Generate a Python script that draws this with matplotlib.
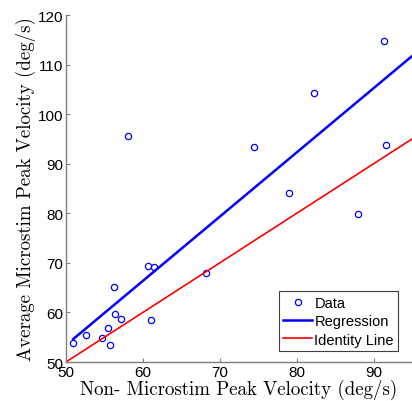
import matplotlib.pyplot as plt
import numpy as np

# non-microstim peak velocity (deg/s) vs average microstim peak velocity (deg/s)
non_stim = [50.95, 52.56, 54.7, 55.5, 55.7, 56.2, 56.4, 57.1, 58.06, 60.7,
            61.5, 61.0, 68.2, 74.4, 79.0, 82.3, 88.0, 91.3, 91.6]
microstim = [53.9, 55.4, 54.8, 56.8, 53.5, 65.1, 59.7, 58.6, 95.6, 69.4,
             69.2, 58.5, 68.0, 93.4, 84.1, 104.2, 79.8, 114.8, 93.8]

# regression line as shown in the figure
fit_slope = 1.296
fit_intercept = -11.4

x_limits = [50, 95]
y_limits = [50, 120]
x_ticks = [50, 60, 70, 80, 90]
y_ticks = [50, 60, 70, 80, 90, 100, 110, 120]

x = np.array(non_stim)
y = np.array(microstim)

fig = plt.figure(figsize=(4.12, 4.02), dpi=100)
ax = fig.add_axes([0.160, 0.097, 0.840, 0.863])

ax.plot(x, y, 'o', mfc='none', mec='#0000ff', mew=0.9, ms=4.5, label='Data')
fit_x = np.array([x.min(), x_limits[1] + 5])
ax.plot(fit_x, fit_slope * fit_x + fit_intercept, color='#0000ff', lw=1.8, label='Regression')
id_x = np.array([x_limits[0], x_limits[1] + 5])
ax.plot(id_x, id_x, color='#ff0000', lw=1.2, label='Identity Line')

ax.set_xlim(x_limits)
ax.set_ylim(y_limits)
ax.set_xticks(x_ticks)
ax.set_yticks(y_ticks)

for side in ['top', 'right']:
    ax.spines[side].set_visible(False)
for side in ['left', 'bottom']:
    ax.spines[side].set_color('#7f7f7f')
    ax.spines[side].set_linewidth(1.0)
ax.tick_params(direction='in', length=3, color='#7f7f7f', labelsize=11,
               labelcolor='black', pad=2)
for lab in ax.get_xticklabels() + ax.get_yticklabels():
    lab.set_family('Liberation Sans')

ax.set_xlabel('Non- Microstim Peak Velocity (deg/s)', family='cmr10', fontsize=13.6, labelpad=0)
ax.set_ylabel('Average Microstim Peak Velocity (deg/s)', family='cmr10', fontsize=13.6, labelpad=1)

leg = ax.legend(loc='lower right', bbox_to_anchor=(0.96, 0.032),
                prop={'family': 'Liberation Sans', 'size': 10.5},
                fancybox=False, framealpha=1, edgecolor='#404040',
                handlelength=2.0, handletextpad=0.15, labelspacing=0.3,
                borderpad=0.3, borderaxespad=0)
leg.get_frame().set_linewidth(0.8)

fig.savefig('out.png', dpi=100)
